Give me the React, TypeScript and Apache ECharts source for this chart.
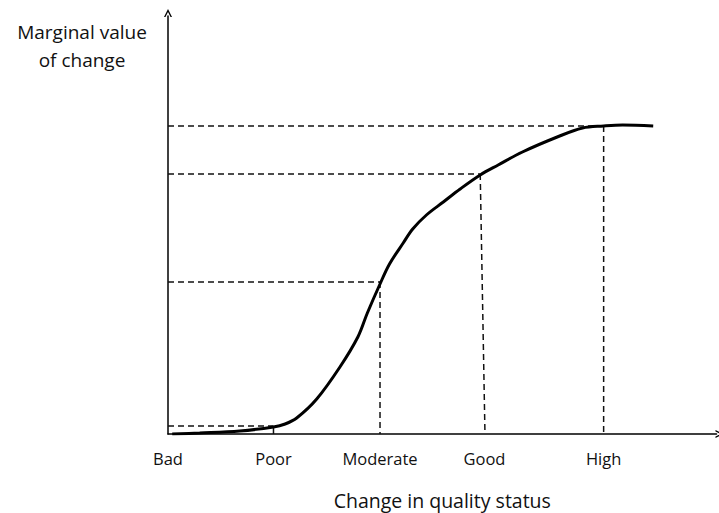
import React, { useEffect, useRef } from "react";
import * as echarts from "echarts";

// Category positions along the quality-status axis
const categories = ["Bad", "Poor", "Moderate", "Good", "High"];
const tickPositions = [0, 1, 2.01, 3.0, 4.13];

// S-shaped curve: [status position, marginal value]
const curveX = [0.04, 0.3, 0.68, 1.0, 1.11, 1.22, 1.41, 1.63, 1.8, 1.89, 2.01, 2.1, 2.23, 2.32, 2.45, 2.61, 2.77, 2.96, 3.13, 3.36, 3.69, 3.93, 4.13, 4.31, 4.6];
const curveY = [0, 1, 3, 7, 10, 16, 35, 67, 97, 121, 150, 170, 191, 205, 219, 232, 245, 259, 269, 282, 297, 306, 308, 309, 308];

// Guide lines: point on curve and where its drop line meets the axis
const guideCurveX = [1.0, 2.01, 2.96, 4.13];
const guideY = [8, 152, 260, 308];
const guideFootX = [1.0, 2.01, 3.005, 4.13];

export default function App() {
  const ref = useRef<HTMLDivElement>(null);

  useEffect(() => {
    if (!ref.current) return;
    const chart = echarts.init(ref.current, null, { renderer: "svg" });
    const font = "'Open Sans', sans-serif";
    const arrow = "path://M0,10 L5,0 L10,10 L8.2,10 L5,3.6 L1.8,10 Z";

    const guideSeries: any[] = [];
    guideCurveX.forEach((cx, i) => {
      guideSeries.push({
        type: "line",
        data: [[0, guideY[i]], [cx, guideY[i]]],
        symbol: "none",
        silent: true,
        lineStyle: { color: "#111", width: 1.5, type: [6, 4] },
      });
      guideSeries.push({
        type: "line",
        data: [[cx, guideY[i]], [guideFootX[i], 0]],
        symbol: "none",
        silent: true,
        lineStyle: { color: "#111", width: 1.5, type: i === 0 ? "solid" : [6, 4] },
      });
    });

    chart.setOption({
      animation: false,
      grid: { left: 168, right: 2.5, top: 16, bottom: 79, outerBoundsMode: "none", containLabel: false },
      xAxis: {
        type: "value",
        min: 0,
        max: 5.2,
        name: "Change in quality status",
        nameLocation: "middle",
        nameGap: 56,
        nameTextStyle: { fontFamily: font, fontSize: 19.5, color: "#111" },
        axisLine: {
          show: true,
          lineStyle: { color: "#000", width: 1.5 },
          symbol: ["none", arrow],
          symbolSize: [10, 8],
          symbolOffset: [0, 3],
        },
        axisTick: { show: false },
        splitLine: { show: false },
        axisLabel: {
          customValues: tickPositions,
          margin: 16,
          fontFamily: font,
          fontSize: 16.5,
          color: "#111",
          formatter: (v: number) => {
            let best = 0;
            tickPositions.forEach((p, i) => {
              if (Math.abs(p - v) < Math.abs(tickPositions[best] - v)) best = i;
            });
            return categories[best];
          },
        },
      },
      yAxis: {
        type: "value",
        min: 0,
        max: 418,
        name: "Marginal value\nof change",
        nameLocation: "end",
        nameGap: -2,
        nameTextStyle: {
          fontFamily: font,
          fontSize: 19,
          lineHeight: 28,
          color: "#111",
          align: "center",
          verticalAlign: "top",
          padding: [0, 172, 0, 0],
        },
        axisLine: {
          show: true,
          lineStyle: { color: "#000", width: 1.5 },
          symbol: ["none", arrow],
          symbolSize: [10, 8],
          symbolOffset: [0, 3],
        },
        axisTick: { show: false },
        splitLine: { show: false },
        axisLabel: { show: false },
      },
      series: [
        ...guideSeries,
        {
          type: "line",
          data: curveX.map((x, i) => [x, curveY[i]]),
          smooth: 0.35,
          symbol: "none",
          silent: true,
          z: 5,
          lineStyle: { color: "#000", width: 3 },
        },
      ],
    });

    return () => chart.dispose();
  }, []);

  return <div ref={ref} style={{ width: 719, height: 513, position: "absolute", left: 0, top: 0 }} />;
}
